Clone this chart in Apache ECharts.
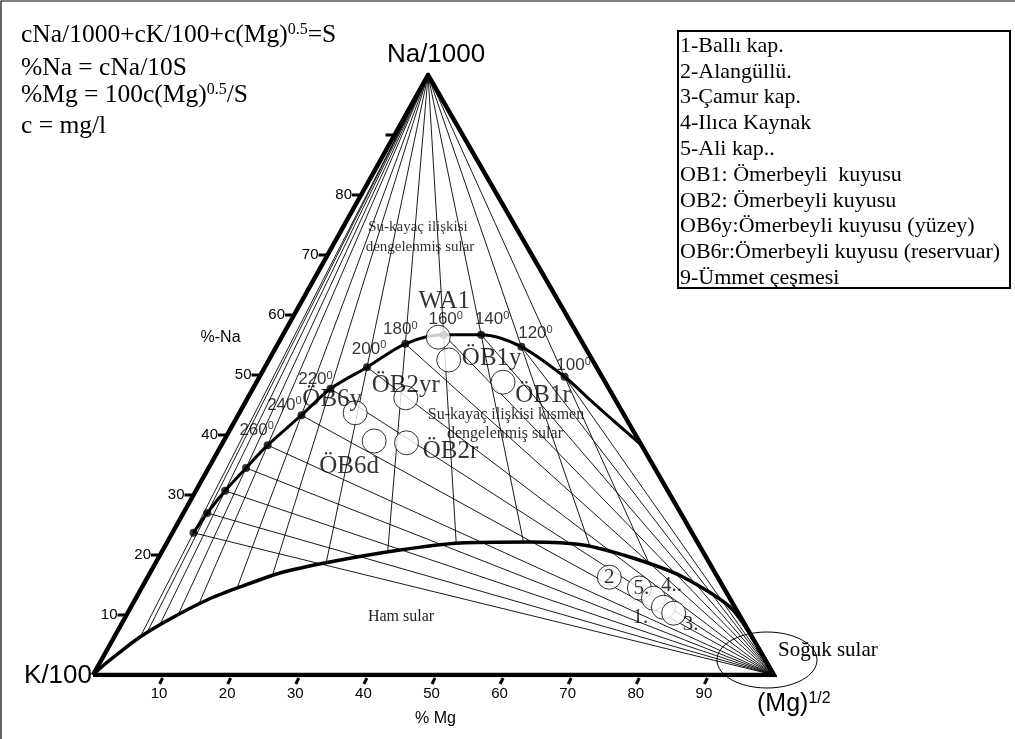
<!DOCTYPE html>
<html>
<head>
<meta charset="utf-8">
<script src="https://cdn.jsdelivr.net/npm/echarts@6/dist/echarts.min.js"></script>
<style>
html,body{margin:0;padding:0;background:#fff;}
#chart{width:1015px;height:739px;}
</style>
</head>
<body>
<div id="chart"></div>
<script>
// Giggenbach Na/1000 - K/100 - (Mg)^1/2 ternary diagram

// full-equilibrium line: temperature points (%Na, %Mg)
const temperatures = [340, 320, 300, 280, 260, 240, 220, 200, 180, 160, 140, 120, 100];
const eqNa = [23.7, 27.0, 30.7, 34.5, 38.3, 43.3, 47.7, 51.3, 55.2, 56.7, 56.7, 54.7, 49.7];
const eqMg = [3.1, 3.5, 4.3, 5.5, 6.8, 9.3, 11.4, 15.0, 18.7, 23.6, 29.1, 36.0, 44.8];
// continuation of the full-equilibrium line below 100 °C, up to the Na-Mg side
const eqTailNa = [45.8, 42.5, 38.3];
const eqTailMg = [50.5, 55.4, 61.7];
const labelledTemps = [260, 240, 220, 200, 180, 160, 140, 120, 100];

// immature-water boundary (%Na, %Mg)
const immNa = [0, 1.83, 3.83, 6.33, 9.33, 12.5, 14.67, 17.0, 18.83, 20.83, 22.0, 22.17, 21.67, 19.5, 16.33, 10.83, 0];
const immMg = [0, 0.86, 2.08, 3.79, 6.72, 10.59, 14.37, 19.1, 25.5, 34.83, 43.07, 53.26, 61.29, 69.7, 78.6, 88.65, 100];

// water samples (%Na, %Mg)
const sampleNames = ['WA1', 'ÖB1y', 'ÖB1r', 'ÖB2yr', 'ÖB6y', 'ÖB6d', 'ÖB2r', '2', '5.', '4..', '1.', '3.'];
const sampleNa = [56.3, 52.5, 48.8, 46.2, 43.7, 39.0, 38.7, 16.3, 14.5, 12.8, 11.3, 10.3];
const sampleMg = [23.0, 26.4, 36.2, 23.2, 17.0, 22.1, 27.0, 67.8, 73.1, 76.0, 78.2, 80.2];

// axis ticks
const naTickLabels = [10, 20, 30, 40, 50, 60, 70, 80];
const naTickMarks = [10, 20, 30, 40, 50, 60, 70, 80, 90];
const mgTickLabels = [10, 20, 30, 40, 50, 60, 70, 80, 90];

const legendLines = [
  '1-Ballı kap.', '2-Alangüllü.', '3-Çamur kap.', '4-Ilıca Kaynak', '5-Ali kap..',
  'OB1: Ömerbeyli  kuyusu', 'OB2: Ömerbeyli kuyusu', 'OB6y:Ömerbeyli kuyusu (yüzey)',
  'OB6r:Ömerbeyli kuyusu (reservuar)', '9-Ümmet çeşmesi'
];

// ---- layout / styling ----
const SHEAR = 0.492;               // apex offset along the base
const tp = (na, mg) => [mg + SHEAR * na, na];
const SERIF = '"Liberation Serif","Times New Roman",serif';
const SANS = '"Liberation Sans",Arial,sans-serif';

// label offsets of sample names relative to their circle (px)
const sampleLabelOffset = {
  'WA1': [6, -36], 'ÖB1y': [43, -2], 'ÖB1r': [40, 13], 'ÖB2yr': [0, -12],
  'ÖB6y': [-23, -13], 'ÖB6d': [-25, 25], 'ÖB2r': [44, 9],
  '2': [0, 0], '5.': [2, 0], '4..': [18, -13], '1.': [-23, 10], '3.': [17, 11]
};
const tempLabelOffset = {
  260: [-11, -15], 240: [-17, -10], 220: [-15, -9], 200: [2, -18], 180: [-5, -14],
  160: [2, -15], 140: [11, -15], 120: [14, -13], 100: [9, -11]
};

const K_V = tp(0, 0), MG_V = tp(0, 100), NA_V = tp(100, 0);
const eqPts = temperatures.map((t, i) => tp(eqNa[i], eqMg[i]));
const eqLine = eqPts.concat(eqTailNa.map((n, i) => tp(n, eqTailMg[i])));
const immLine = immNa.map((n, i) => tp(n, immMg[i]));

// first crossing of the ray from -> through (beyond `through`) with a polyline
function rayHit(from, through, poly) {
  const dx = through[0] - from[0], dy = through[1] - from[1];
  let best = null;
  for (let i = 0; i < poly.length - 1; i++) {
    const p = poly[i], q = poly[i + 1];
    const ex = q[0] - p[0], ey = q[1] - p[1];
    const den = dx * ey - dy * ex;
    if (Math.abs(den) < 1e-12) continue;
    const t = ((p[0] - from[0]) * ey - (p[1] - from[1]) * ex) / den;
    const u = ((p[0] - from[0]) * dy - (p[1] - from[1]) * dx) / den;
    if (t > 1 && u >= 0 && u <= 1 && (!best || t < best.t)) {
      best = { t: t, pt: [from[0] + t * dx, from[1] + t * dy] };
    }
  }
  return best ? best.pt : through;
}

// isotherms: K-Mg lines from the Na apex, Na-K lines from the Mg corner
const isoLines = [];
eqPts.forEach(p => {
  isoLines.push({ coords: [NA_V, rayHit(NA_V, p, immLine)] });
  isoLines.push({ coords: [MG_V, p] });
});

const chart = echarts.init(document.getElementById('chart'), null, { renderer: 'canvas' });

const supRich = (size, font) => ({
  a: { fontSize: size, fontFamily: font, color: '#000' },
  s: { fontSize: Math.round(size * 0.62), fontFamily: font, color: '#000', verticalAlign: 'top', padding: [0, 0, Math.round(size * 0.45), 0] }
});

chart.setOption({
  animation: false,
  backgroundColor: '#fff',
  grid: { left: 93, top: 75, width: 681, height: 600, containLabel: false },
  xAxis: { type: 'value', min: 0, max: 100, show: false },
  yAxis: { type: 'value', min: 0, max: 100, show: false },
  series: [
    {
      type: 'lines', coordinateSystem: 'cartesian2d', z: 1,
      silent: true,
      lineStyle: { color: '#000', width: 0.9, opacity: 1 },
      data: isoLines
    },
    {
      type: 'line', z: 2, symbol: 'none', smooth: 0.25,
      lineStyle: { color: '#000', width: 3.5 },
      data: immLine
    },
    {
      type: 'line', z: 2, symbol: 'none', smooth: 0.3,
      lineStyle: { color: '#000', width: 3 },
      data: eqLine
    },
    {
      type: 'line', z: 3, symbol: 'none',
      lineStyle: { color: '#000', width: 4.5, join: 'miter' },
      data: [K_V, MG_V, NA_V, K_V]
    },
    {
      type: 'scatter', z: 4, symbol: 'circle', symbolSize: 8,
      itemStyle: { color: '#000' },
      data: temperatures.map((t, i) => ({
        value: eqPts[i],
        label: labelledTemps.includes(t) ? {
          show: true, position: 'inside', offset: tempLabelOffset[t],
          formatter: '{a|' + t + '}{s|0}', rich: supRich(17, SANS)
        } : { show: false }
      }))
    },
    {
      type: 'scatter', z: 5, symbol: 'circle', symbolSize: 24,
      itemStyle: { color: '#fff', borderColor: '#000', borderWidth: 1 },
      label: { show: true, position: 'inside', color: '#000', fontFamily: SERIF },
      data: sampleNames.map((n, i) => ({
        value: tp(sampleNa[i], sampleMg[i]),
        label: {
          formatter: n, offset: sampleLabelOffset[n],
          fontSize: n.length > 3 || n === 'WA1' ? 25 : 21
        }
      }))
    },
    {
      // axis ticks, tick labels and corner annotations
      type: 'custom', z: 6, clip: false, silent: true,
      data: [[0, 0]],
      renderItem: function (params, api) {
        const ch = [];
        naTickMarks.forEach(v => {
          const p = api.coord(tp(v, 0));
          ch.push({ type: 'line', shape: { x1: p[0] - 9, y1: p[1], x2: p[0], y2: p[1] },
            style: { stroke: '#000', lineWidth: 3 } });
        });
        naTickLabels.forEach(v => {
          const p = api.coord(tp(v, 0));
          ch.push({ type: 'text', x: p[0] - 9, y: p[1],
            style: { text: String(v), font: '15px ' + SANS, fill: '#000', align: 'right', verticalAlign: 'middle' } });
        });
        mgTickLabels.forEach(v => {
          const p = api.coord(tp(0, v));
          ch.push({ type: 'line', shape: { x1: p[0] + 1.5, y1: p[1] + 3, x2: p[0] - 1.5, y2: p[1] + 9 },
            style: { stroke: '#000', lineWidth: 3 } });
          ch.push({ type: 'text', x: p[0] - 2, y: p[1] + 11,
            style: { text: String(v), font: '15px ' + SANS, fill: '#000', align: 'center', verticalAlign: 'top' } });
        });
        const k = api.coord(K_V), m = api.coord(MG_V), a = api.coord(NA_V);
        ch.push({ type: 'text', x: a[0] + 8, y: a[1] - 20,
          style: { text: 'Na/1000', font: '26px ' + SANS, fill: '#000', align: 'center', verticalAlign: 'middle' } });
        ch.push({ type: 'text', x: k[0] - 1, y: k[1] + 1,
          style: { text: 'K/100', font: '26px ' + SANS, fill: '#000', align: 'right', verticalAlign: 'middle' } });
        ch.push({ type: 'text', x: m[0] - 17, y: m[1] + 29,
          style: { text: '{a|(Mg)}{s|1/2}', rich: supRich(25, SANS), align: 'left', verticalAlign: 'middle' } });
        ch.push({ type: 'ellipse', shape: { cx: m[0] - 7, cy: m[1] - 15, rx: 50, ry: 28 },
          style: { fill: null, stroke: '#000', lineWidth: 1 } });
        ch.push({ type: 'text', x: m[0] + 4, y: m[1] - 25,
          style: { text: 'Soğuk sular', font: '21px ' + SERIF, fill: '#000', align: 'left', verticalAlign: 'middle' } });
        const naMid = api.coord(tp(50, 0));
        ch.push({ type: 'text', x: naMid[0] - 40, y: naMid[1] - 37,
          style: { text: '%-Na', font: '16px ' + SANS, fill: '#000', align: 'center', verticalAlign: 'middle' } });
        const mgMid = api.coord(tp(0, 50));
        ch.push({ type: 'text', x: mgMid[0] + 2, y: mgMid[1] + 44,
          style: { text: '% Mg', font: '16px ' + SANS, fill: '#000', align: 'center', verticalAlign: 'middle' } });
        return { type: 'group', children: ch };
      }
    }
  ],
  graphic: [
    { type: 'rect', shape: { x: 1, y: 1, width: 1200, height: 900 }, style: { fill: null, stroke: '#000', lineWidth: 1.2 }, z: 0 },
    { type: 'text', left: 21, top: 22, style: { text: '{a|cNa/1000+cK/100+c(Mg)}{s|0.5}{a|=S}', rich: supRich(25.5, SERIF) } },
    { type: 'text', left: 21, top: 55, style: { text: '%Na = cNa/10S', font: '25.5px ' + SERIF, fill: '#000' } },
    { type: 'text', left: 21, top: 82, style: { text: '{a|%Mg = 100c(Mg)}{s|0.5}{a|/S}', rich: supRich(25.5, SERIF) } },
    { type: 'text', left: 21, top: 113, style: { text: 'c = mg/l', font: '25.5px ' + SERIF, fill: '#000' } },
    { type: 'rect', shape: { x: 678, y: 31, width: 332, height: 257 }, style: { fill: '#fff', stroke: '#000', lineWidth: 2 } },
    {
      type: 'group', left: 680, top: 35,
      children: legendLines.map((t, i) => ({
        type: 'text', x: 0, y: i * 25.8,
        style: { text: t, font: '22px ' + SERIF, fill: '#000' }
      }))
    },
    { type: 'text', x: 418, y: 227, style: { text: 'Su-kayaç ilişkisi', font: '15px ' + SERIF, fill: '#333', align: 'center', verticalAlign: 'middle' } },
    { type: 'text', x: 420, y: 247, style: { text: 'dengelenmiş sular', font: '15px ' + SERIF, fill: '#333', align: 'center', verticalAlign: 'middle' } },
    { type: 'text', x: 506, y: 415, style: { text: 'Su-kayaç ilişkisi kısmen', font: '16px ' + SERIF, fill: '#333', align: 'center', verticalAlign: 'middle' } },
    { type: 'text', x: 505, y: 434, style: { text: 'dengelenmiş sular', font: '16px ' + SERIF, fill: '#333', align: 'center', verticalAlign: 'middle' } },
    { type: 'text', x: 401, y: 617, style: { text: 'Ham sular', font: '16px ' + SERIF, fill: '#222', align: 'center', verticalAlign: 'middle' } }
  ]
});
</script>
</body>
</html>
